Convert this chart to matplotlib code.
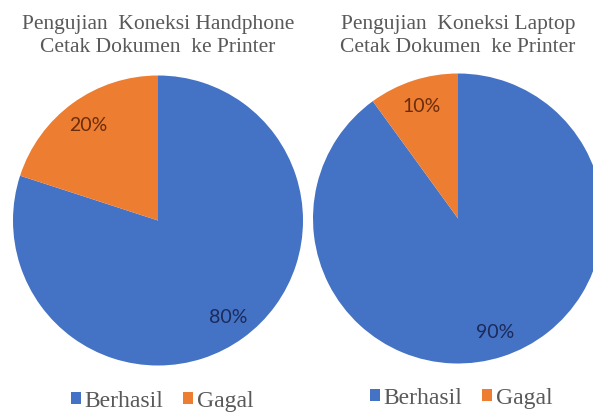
import matplotlib.pyplot as plt

# data
categories = ["Berhasil", "Gagal"]
handphone_pct = [80, 20]
laptop_pct = [90, 10]
titles = [
    ["Pengujian  Koneksi Handphone", "Cetak Dokumen  ke Printer"],
    ["Pengujian  Koneksi Laptop", "Cetak Dokumen  ke Printer"],
]

colors = ["#4472C4", "#ED7D31"]
label_colors = ["#1c2a5a", "#6b2c0c"]
gray = "#595959"

W, H = 593, 414
fig = plt.figure(figsize=(W / 100, H / 100), dpi=100)


def draw_pie(values, cx, cy, r, title, legend_xy):
    ax = fig.add_axes([(cx - r) / W, (H - cy - r) / H, 2 * r / W, 2 * r / H])
    wedges, texts, autotexts = ax.pie(
        values,
        colors=colors,
        startangle=90,
        counterclock=False,
        autopct="%d%%",
        pctdistance=0.82,
        textprops={"family": "Lato", "fontsize": 14},
        wedgeprops={"linewidth": 0},
    )
    for t, c in zip(autotexts, label_colors):
        t.set_color(c)
    ax.set_xlim(-1, 1)
    ax.set_ylim(-1, 1)
    ax.axis("off")

    fig.text(cx / W, 1 - 24 / H, title[0], ha="center", va="center",
             family="Liberation Serif", fontsize=15.5, color=gray)
    fig.text(cx / W, 1 - 47 / H, title[1], ha="center", va="center",
             family="Liberation Serif", fontsize=15.5, color=gray)

    fig.legend(wedges, categories, loc="center", ncol=2, frameon=False,
               bbox_to_anchor=(legend_xy[0] / W, 1 - legend_xy[1] / H),
               bbox_transform=fig.transFigure,
               handlelength=0.45, handleheight=0.45, handletextpad=0.15,
               columnspacing=0.8, borderpad=0.2,
               prop={"family": "Liberation Serif", "size": 17},
               labelcolor=gray)


draw_pie(handphone_pct, 158, 221.5, 145, titles[0], (162, 402))
draw_pie(laptop_pct, 458, 219.5, 145, titles[1], (461, 399))

fig.savefig("out.png", dpi=100)
